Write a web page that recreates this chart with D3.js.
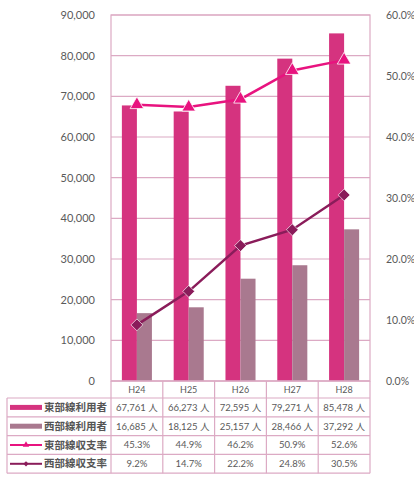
<!DOCTYPE html>
<html>
<head>
<meta charset="utf-8">
<script src="https://cdn.jsdelivr.net/npm/d3@7"></script>
<style>
  body { margin: 0; background: #fff; }
  text { font-family: "Lato", "Noto Sans CJK JP", sans-serif; }
</style>
</head>
<body>
<script>
/* 東部線・西部線 利用者数と収支率 */

const years = ["H24", "H25", "H26", "H27", "H28"];
const eastUsers = [67761, 66273, 72595, 79271, 85478];
const westUsers = [16685, 18125, 25157, 28466, 37292];
const eastRate = [45.3, 44.9, 46.2, 50.9, 52.6];
const westRate = [9.2, 14.7, 22.2, 24.8, 30.5];
const leftTicks = [0, 10000, 20000, 30000, 40000, 50000, 60000, 70000, 80000, 90000];
const rightTicks = [0, 10, 20, 30, 40, 50, 60];
const rowNames = ["東部線利用者", "西部線利用者", "東部線収支率", "西部線収支率"];

const width = 414, height = 477;
const margin = { top: 15, right: 44, bottom: 96, left: 111 };

const cEast = "#d5337f", cWest = "#a9798f", cEastLine = "#e8137f", cWestLine = "#8a1c5a";
const cGrid = "#dcaac4", cText = "#5a5a5a";

const svg = d3.select("body").append("svg")
  .attr("width", width)
  .attr("height", height);

let x = d3.scaleBand()
  .domain(years)
  .range([margin.left, width - margin.right]);

let y = d3.scaleLinear()
  .domain([0, 90000])
  .range([height - margin.bottom, margin.top]);

let y2 = d3.scaleLinear()
  .domain([0, 60])
  .range([height - margin.bottom, margin.top]);

// gridlines
svg.append("g")
  .selectAll("line")
  .data(leftTicks)
  .enter().append("line")
  .attr("x1", margin.left).attr("x2", width - margin.right)
  .attr("y1", d => y(d)).attr("y2", d => y(d))
  .attr("stroke", cGrid).attr("stroke-width", 1.2);

// left / right axis labels
svg.append("g")
  .attr("transform", `translate(${margin.left - 13},0)`)
  .call(d3.axisLeft(y).tickValues(leftTicks).tickFormat(d3.format(",")).tickSize(0))
  .call(g => g.select(".domain").remove())
  .call(g => g.selectAll("text").attr("fill", cText).attr("font-size", 11));

svg.append("g")
  .attr("transform", `translate(${width - margin.right + 13},0)`)
  .call(d3.axisRight(y2).tickValues(rightTicks).tickFormat(d => d.toFixed(1) + "%").tickSize(0))
  .call(g => g.select(".domain").remove())
  .call(g => g.selectAll("text").attr("fill", cText).attr("font-size", 10.5));

// bars
const bw = x.bandwidth() * 0.29;
const bars = svg.append("g");
bars.selectAll(".east")
  .data(eastUsers)
  .enter().append("rect")
  .attr("x", (d, i) => x(years[i]) + x.bandwidth() / 2 - bw)
  .attr("y", d => y(d))
  .attr("width", bw)
  .attr("height", d => y(0) - y(d))
  .attr("fill", cEast);
bars.selectAll(".west")
  .data(westUsers)
  .enter().append("rect")
  .attr("x", (d, i) => x(years[i]) + x.bandwidth() / 2)
  .attr("y", d => y(d))
  .attr("width", bw)
  .attr("height", d => y(0) - y(d))
  .attr("fill", cWest);

// plot border
svg.append("rect")
  .attr("x", margin.left).attr("y", margin.top)
  .attr("width", width - margin.left - margin.right)
  .attr("height", height - margin.top - margin.bottom)
  .attr("fill", "none").attr("stroke", cGrid).attr("stroke-width", 1.2);

// lines
const line = d3.line()
  .x((d, i) => x(years[i]) + x.bandwidth() / 2)
  .y(d => y2(d));

svg.append("path").datum(eastRate)
  .attr("d", line).attr("fill", "none")
  .attr("stroke", cEastLine).attr("stroke-width", 2.5);
svg.append("path").datum(westRate)
  .attr("d", line).attr("fill", "none")
  .attr("stroke", cWestLine).attr("stroke-width", 2.5);

const tri = d3.symbol().type(d3.symbolTriangle).size(80);
const dia = d3.symbol().type(d3.symbolSquare).size(70);

svg.append("g").selectAll("path")
  .data(eastRate)
  .enter().append("path")
  .attr("d", tri)
  .attr("transform", (d, i) => `translate(${x(years[i]) + x.bandwidth() / 2},${y2(d)})`)
  .attr("fill", cEastLine).attr("stroke", "#fff").attr("stroke-width", 0.8);

svg.append("g").selectAll("path")
  .data(westRate)
  .enter().append("path")
  .attr("d", dia)
  .attr("transform", (d, i) => `translate(${x(years[i]) + x.bandwidth() / 2},${y2(d)}) rotate(45)`)
  .attr("fill", cWestLine).attr("stroke", "#fff").attr("stroke-width", 0.6);

// data table
const tableLeft = 7;
const headTop = y(0), headBottom = headTop + 17;
const rowH = 18.8;
const rowTop = i => headBottom + i * rowH;
const tableBottom = rowTop(rowNames.length);
const tbl = svg.append("g").attr("stroke", cGrid).attr("stroke-width", 1.2);

// horizontal lines
tbl.append("line").attr("x1", margin.left).attr("x2", width - margin.right)
  .attr("y1", headTop).attr("y2", headTop);
d3.range(rowNames.length + 1).forEach(i => {
  tbl.append("line").attr("x1", tableLeft).attr("x2", width - margin.right)
    .attr("y1", rowTop(i)).attr("y2", rowTop(i));
});
// vertical lines
tbl.append("line").attr("x1", tableLeft).attr("x2", tableLeft)
  .attr("y1", headBottom).attr("y2", tableBottom);
years.concat(["end"]).forEach((yr, i) => {
  const xx = i < years.length ? x(yr) : x(years[years.length - 1]) + x.bandwidth();
  tbl.append("line").attr("x1", xx).attr("x2", xx)
    .attr("y1", headTop).attr("y2", tableBottom);
});

// header
svg.append("g").selectAll("text")
  .data(years)
  .enter().append("text")
  .attr("x", d => x(d) + x.bandwidth() / 2)
  .attr("y", (headTop + headBottom) / 2)
  .attr("dy", "0.35em")
  .attr("text-anchor", "middle")
  .attr("font-size", 9).attr("fill", cText)
  .text(d => d);

const fmt = d3.format(",");
const cells = [
  eastUsers.map(d => fmt(d) + " 人"),
  westUsers.map(d => fmt(d) + " 人"),
  eastRate.map(d => d.toFixed(1) + "%"),
  westRate.map(d => d.toFixed(1) + "%")
];

cells.forEach((row, r) => {
  svg.append("g").selectAll("text")
    .data(row)
    .enter().append("text")
    .attr("x", (d, i) => x(years[i]) + x.bandwidth() / 2)
    .attr("y", rowTop(r) + rowH / 2)
    .attr("dy", "0.35em")
    .attr("text-anchor", "middle")
    .attr("font-size", 9.5).attr("fill", cText)
    .text(d => d);
});

// row labels with legend keys
const keyX0 = 10, keyX1 = 42;
rowNames.forEach((name, r) => {
  const cy = rowTop(r) + rowH / 2;
  const g = svg.append("g");
  if (r < 2) {
    g.append("line").attr("x1", keyX0).attr("x2", keyX1).attr("y1", cy).attr("y2", cy)
      .attr("stroke", r === 0 ? cEast : cWest).attr("stroke-width", 5);
  } else {
    const col = r === 2 ? cEastLine : cWestLine;
    g.append("line").attr("x1", keyX0).attr("x2", keyX1).attr("y1", cy).attr("y2", cy)
      .attr("stroke", col).attr("stroke-width", 2);
    g.append("path")
      .attr("d", r === 2 ? d3.symbol().type(d3.symbolTriangle).size(18)
                         : d3.symbol().type(d3.symbolSquare).size(14))
      .attr("transform", `translate(${(keyX0 + keyX1) / 2},${cy})` + (r === 3 ? " rotate(45)" : ""))
      .attr("fill", col);
  }
  g.append("text")
    .attr("x", margin.left - 4).attr("y", cy).attr("dy", "0.35em")
    .attr("text-anchor", "end")
    .attr("font-family", "Noto Sans CJK JP")
    .attr("font-size", 10.5).attr("font-weight", "bold").attr("fill", "#555")
    .text(name);
});
</script>
</body>
</html>
